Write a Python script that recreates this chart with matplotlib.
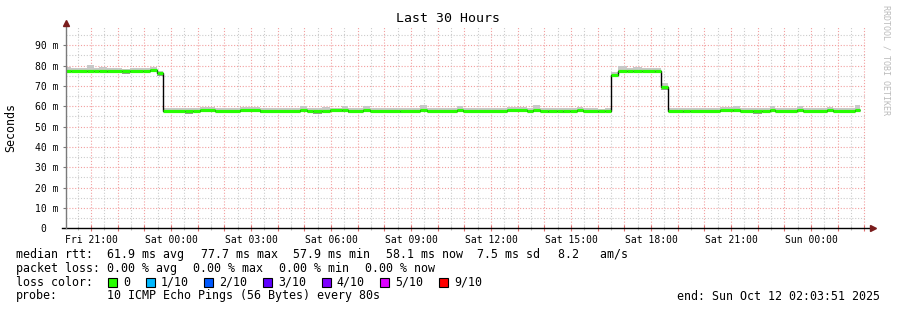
import matplotlib
matplotlib.use("Agg")
from matplotlib import pyplot as plt
from matplotlib.patches import Rectangle
import numpy as np

# SmokePing style latency graph, 30 hours ending Sun Oct 12 02:03:51 2025.
# Times are hours since the graph start (Fri 20:03:51).
seg_start = [0.00, 0.20, 0.80, 1.05, 1.25, 1.55, 2.10, 2.40, 2.90, 3.15, 3.41,
             3.64, 4.46, 4.76, 5.03, 5.59, 6.53, 7.28, 8.78, 9.04, 9.26, 9.60,
             9.90, 10.35, 10.58, 11.14, 11.40, 12.53, 13.28, 13.54, 14.66,
             14.89, 16.54, 17.29, 17.51, 17.78, 18.08, 18.41, 18.64, 18.90,
             19.16, 19.39, 19.95, 20.21,
             20.44, 20.70, 21.04, 21.26, 21.60, 22.09, 22.31,
             22.58, 23.14, 23.40, 24.53, 25.01, 25.28, 25.76, 26.10, 26.40,
             26.59, 27.41, 27.64, 28.54, 28.76, 29.59]
data_end = 29.78

# median rtt (ms) per segment
median = [77.6, 77.5, 77.6, 77.5, 77.6, 77.3, 77.4, 77.6, 77.5, 77.7, 76.2,
          57.8, 57.7, 57.9, 58.0, 57.9, 58.1, 57.9, 58.0, 57.9, 57.6, 57.9,
          58.0, 58.0, 57.8, 58.0, 57.9, 57.8, 58.1, 57.9, 58.0,
          57.9, 58.0, 57.9, 58.1, 57.9, 57.7, 57.9, 57.7, 57.9,
          58.0, 57.9, 57.7, 57.9,
          75.5, 77.6, 77.5, 77.6, 77.4, 77.5, 69.3,
          57.9, 57.7, 57.9, 58.0, 58.0, 57.9, 57.6, 57.9, 58.0,
          57.9, 58.0, 57.9, 58.0, 57.9, 58.1]

# smoke (spread of the 10 pings) per segment
smoke_lo = [76.6, 76.7, 76.8, 76.7, 76.8, 76.4, 75.9, 76.6, 76.8, 76.8, 74.8,
            57.0, 56.4, 57.1, 57.1, 57.0, 57.3, 56.9, 57.1, 57.1, 56.2, 57.0,
            57.2, 57.1, 56.9, 57.2, 57.0, 56.9, 57.2, 57.0, 57.1,
            57.0, 57.1, 57.0, 57.2, 57.1, 56.5, 57.1, 56.6, 57.1,
            57.1, 57.0, 56.5, 57.0,
            74.2, 76.8, 76.7, 76.8, 76.7, 76.6, 68.0,
            57.0, 56.5, 57.0, 57.1, 57.1, 57.0, 56.3, 57.0, 57.1,
            57.0, 57.1, 57.0, 57.1, 57.0, 57.2]
smoke_hi = [79.1, 78.6, 80.3, 78.6, 79.3, 78.6, 78.5, 79.0, 78.7, 79.1, 77.6,
            59.2, 59.0, 59.2, 59.5, 59.4, 59.5, 59.3, 60.2, 59.2, 59.0, 59.8,
            59.2, 60.3, 59.2, 60.0, 59.3, 59.2, 60.4, 59.3, 60.1,
            59.2, 59.9, 59.3, 60.6, 59.2, 59.0, 59.2, 59.0, 59.3,
            59.9, 59.2, 58.9, 59.2,
            76.7, 79.9, 78.7, 79.1, 78.6, 79.0, 71.3,
            59.2, 59.0, 59.3, 59.5, 60.2, 59.3, 59.0, 59.3, 60.0,
            59.2, 60.1, 59.3, 59.9, 59.2, 60.6]

tick_labels = ["Fri 21:00", "Sat 00:00", "Sat 03:00", "Sat 06:00", "Sat 09:00",
               "Sat 12:00", "Sat 15:00", "Sat 18:00", "Sat 21:00", "Sun 00:00"]
first_hour = 0.9358  # Fri 21:00 relative to start

loss_labels = ["0", "1/10", "2/10", "3/10", "4/10", "5/10", "9/10"]
loss_colors = ["#26ff00", "#00b8ff", "#0059ff", "#5e00ff", "#7e00ff",
               "#dd00ff", "#ff0000"]

rtt_stats = ["61.9 ms avg", "77.7 ms max", "57.9 ms min", "58.1 ms now",
             "7.5 ms sd", "8.2   am/s"]
loss_stats = ["0.00 % avg", "0.00 % max", "0.00 % min", "0.00 % now"]

W, H = 897, 310
mono = "DejaVu Sans Mono"
plt.rcParams['font.family'] = mono

fig = plt.figure(figsize=(W / 100, H / 100), dpi=100)
fig.patch.set_facecolor("white")
ax = fig.add_axes([66 / W, (H - 228.3) / H, 800 / W, 201.3 / H])
ax.set_xlim(0, 30)
ax.set_ylim(0, 99)

# grid
hours = first_hour + np.arange(0, 30)
hours = hours[hours < 30]
halves = hours - 0.5
halves = halves[halves > 0]
dot = (0, (1, 1.6))
for h in halves:
    ax.axvline(h, color="#cccccc", lw=0.8, ls=dot, zorder=0)
for h in hours:
    ax.axvline(h, color="#f2a0a0", lw=0.8, ls=dot, zorder=0)
for v in range(5, 99, 10):
    ax.axhline(v, color="#cccccc", lw=0.8, ls=dot, zorder=0)
for v in range(10, 99, 10):
    ax.axhline(v, color="#f2a0a0", lw=0.8, ls=dot, zorder=0)

# smoke
seg_end = seg_start[1:] + [data_end]
for t0, t1, lo, hi in zip(seg_start, seg_end, smoke_lo, smoke_hi):
    ax.add_patch(Rectangle((t0, lo), t1 - t0, hi - lo, color="#c8c8c8",
                           lw=0, zorder=1))
    ax.add_patch(Rectangle((t0, lo), t1 - t0, 0.5, color="#9a9a9a",
                           lw=0, zorder=1))

# median line: black steps under green segments
ax.stairs(median, seg_start + [data_end], color="black", lw=1.0,
          baseline=None, zorder=2)
ax.hlines(median, seg_start, seg_end, color=loss_colors[0], lw=2.3, zorder=3)

# axes
for s in ax.spines.values():
    s.set_visible(False)
ax.plot([-0.15, 30.15], [0, 0], color="black", lw=1.0, clip_on=False,
        zorder=4)
ax.plot([0, 0], [0, 100.5], color="#7a7a7a", lw=1.0, clip_on=False, zorder=4)
ax.plot([30.25], [0], marker=">", color="#7a1c1c", ms=4.5, clip_on=False,
        zorder=5)
ax.plot([0], [100.8], marker="^", color="#7a1c1c", ms=4.5, clip_on=False,
        zorder=5)

ax.set_xticks(hours, [tick_labels[i // 3] if i % 3 == 0 else ""
                      for i in range(len(hours))])
ax.set_xticks(halves, minor=True)
ax.tick_params(axis="x", which="major", direction="inout", length=4,
               color="#e07070", width=0.8, labelsize=7, pad=3)
ax.tick_params(axis="x", which="minor", direction="inout", length=3,
               color="#bbbbbb", width=0.8)
ax.set_yticks(range(0, 91, 10),
              ["0  "] + ["%d m" % v for v in range(10, 91, 10)])
ax.tick_params(axis="y", which="major", length=2, color="#7a7a7a",
               labelsize=7, pad=3.5)

# texts
def ftext(x, y, s, **kw):
    kw.setdefault("fontsize", 8.4)
    kw.setdefault("va", "center")
    fig.text(x / W, 1 - y / H, s, **kw)

ftext(447.5, 19, "Last 30 Hours", ha="center", fontsize=9.5)
ftext(11, 127, "Seconds", ha="center", rotation=90)
ftext(886, 60, "RRDTOOL / TOBI OETIKER", ha="center", rotation=270,
      fontsize=6, color="#bbbbbb")

ftext(16, 254.3, "median rtt:")
for x, s in zip([106.7, 201, 293.3, 385.7, 476.7, 558], rtt_stats):
    ftext(x, 254.3, s)
ftext(16, 268.3, "packet loss:")
for x, s in zip([106.7, 193.3, 279.3, 365], loss_stats):
    ftext(x, 268.3, s)

ftext(16, 282, "loss color:")
bx = 108
for lab, col in zip(loss_labels, loss_colors):
    fig.patches.append(Rectangle((bx / W, 1 - 287 / H), 9 / W, 9 / H,
                                 transform=fig.transFigure, facecolor=col,
                                 edgecolor="black", lw=0.8))
    ftext(bx + 15, 282, lab)
    bx += 15 + len(lab) * 7.05 + 15.5

ftext(16, 296, "probe:")
ftext(106.7, 296, "10 ICMP Echo Pings (56 Bytes) every 80s")
ftext(880, 296, "end: Sun Oct 12 02:03:51 2025", ha="right")

fig.savefig("out.png", dpi=100)
